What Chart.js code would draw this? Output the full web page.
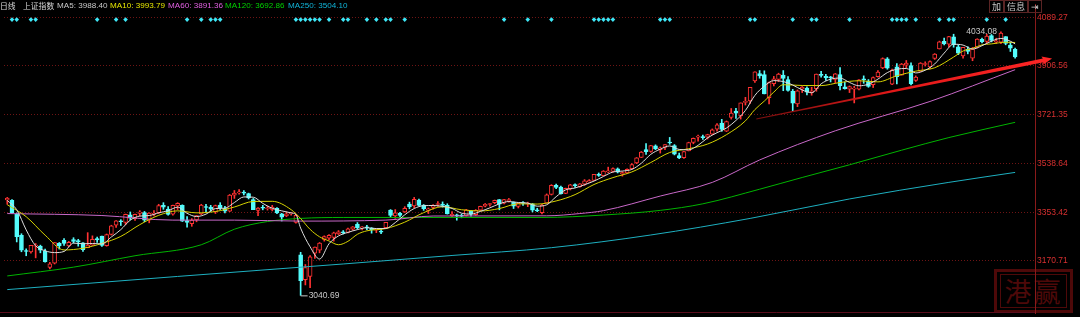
<!DOCTYPE html>
<html>
<head>
<meta charset="utf-8">
<script src="https://cdn.jsdelivr.net/npm/chart.js@4.4.1/dist/chart.umd.min.js"></script>
<style>
  html, body { margin: 0; padding: 0; background: #000; }
  #wrap { position: relative; width: 1080px; height: 317px; overflow: hidden; background: #000; }
  #kline { position: absolute; left: 0; top: 0; z-index: 1; }
  #legend, #btns { position: absolute; top: 0; z-index: 2; font: 8.1px "Liberation Sans", "Noto Sans CJK SC", sans-serif; white-space: nowrap; }
  #legend span { position: absolute; top: 1px; }
  #legend span.cn { font: 7.8px "Noto Sans CJK SC", sans-serif; top: 0; }
  #btns { left: 989px; top: 0; display: flex; }
  #btns span { display: block; height: 11px; line-height: 11px; border: 1px solid #5a2424; color: #c8c8c8; padding: 0 2px; font-size: 9px; font-family: "Noto Sans CJK SC", sans-serif; }
  #stamp { position: absolute; left: 994px; top: 269px; width: 73px; height: 38px; border: 3px solid #4e0909; z-index: 0; }
  #stamp div { position: absolute; left: 3px; top: 2px; right: 3px; bottom: 2px; border: 1px solid #4e0909; color: #4e0909; font: 27px "Noto Sans CJK SC", sans-serif; line-height: 32px; text-align: center; letter-spacing: 2px; }
</style>
</head>
<body>
<div id="wrap">
  <div id="stamp"><div>港赢</div></div>
  <canvas id="kline" width="1080" height="317"></canvas>
  <div id="legend"></div>
  <div id="btns"><span>加</span><span>信息</span><span>⇥</span></div>
</div>
<script>
// 上证指数 日线 2024-12-30 .. 2025-11-18
const dates = [
  '12-30','12-31',
  '01-02','01-03','01-06','01-07','01-08','01-09','01-10','01-13','01-14','01-15','01-16','01-17','01-20','01-21','01-22','01-23','01-24','01-27',
  '02-05','02-06','02-07','02-10','02-11','02-12','02-13','02-14','02-17','02-18','02-19','02-20','02-21','02-24','02-25','02-26','02-27','02-28',
  '03-03','03-04','03-05','03-06','03-07','03-10','03-11','03-12','03-13','03-14','03-17','03-18','03-19','03-20','03-21','03-24','03-25','03-26','03-27','03-28','03-31',
  '04-01','04-02','04-03','04-07','04-08','04-09','04-10','04-11','04-14','04-15','04-16','04-17','04-18','04-21','04-22','04-23','04-24','04-25','04-28','04-29','04-30',
  '05-06','05-07','05-08','05-09','05-12','05-13','05-14','05-15','05-16','05-19','05-20','05-21','05-22','05-23','05-26','05-27','05-28','05-29','05-30',
  '06-03','06-04','06-05','06-06','06-09','06-10','06-11','06-12','06-13','06-16','06-17','06-18','06-19','06-20','06-23','06-24','06-25','06-26','06-27','06-30',
  '07-01','07-02','07-03','07-04','07-07','07-08','07-09','07-10','07-11','07-14','07-15','07-16','07-17','07-18','07-21','07-22','07-23','07-24','07-25','07-28','07-29','07-30','07-31',
  '08-01','08-04','08-05','08-06','08-07','08-08','08-11','08-12','08-13','08-14','08-15','08-18','08-19','08-20','08-21','08-22','08-25','08-26','08-27','08-28','08-29',
  '09-01','09-02','09-03','09-04','09-05','09-08','09-09','09-10','09-11','09-12','09-15','09-16','09-17','09-18','09-19','09-22','09-23','09-24','09-25','09-26','09-29','09-30',
  '10-09','10-10','10-13','10-14','10-15','10-16','10-17','10-20','10-21','10-22','10-23','10-24','10-27','10-28','10-29','10-30','10-31',
  '11-03','11-04','11-05','11-06','11-07','11-10','11-11','11-12','11-13','11-14','11-17','11-18'
];

const opens = [
  3400,3399,
  3347,3267,3207,3204,3226,3226,3208,3146,3162,3237,3248,3227,3251,3247,3239,3220,3230,3255,
  3264,3228,3270,3305,3320,3316,3344,3330,3350,3353,3324,3346,3352,3380,3366,3347,3378,3380,
  3323,3311,3325,3348,3374,3373,3355,3381,3368,3358,3418,3427,3428,3424,3402,3361,3370,3367,3365,3369,3348,
  3340,3348,3316,3193,3100,3112,3200,3211,3252,3256,3259,3272,3278,3278,3290,3308,3295,3298,3294,3286,3283,
  3296,3362,3340,3350,3355,3385,3378,3400,3381,3361,3372,3383,3385,3380,3341,3341,3340,3341,3360,
  3345,3362,3377,3383,3390,3402,3388,3397,3391,3376,3389,3385,3386,3363,3352,3388,3421,3455,3449,3425,
  3442,3456,3450,3460,3468,3474,3497,3492,3506,3508,3518,3499,3502,3518,3540,3561,3590,3583,3604,3590,3598,3616,3605,
  3568,3560,3585,3617,3637,3637,3637,3648,3667,3690,3660,3711,3735,3717,3768,3774,3849,3877,3873,3786,3839,
  3855,3871,3854,3810,3762,3818,3822,3806,3820,3874,3866,3862,3855,3873,3827,3818,3818,3818,3854,3848,3835,3865,
  3898,3932,3837,3902,3871,3909,3907,3851,3885,3911,3902,3934,3970,3998,3987,4015,3977,
  3943,3968,3935,3975,4006,3998,4020,3995,3995,4016,3984,3968
];
const highs = [
  3410,3402,
  3351,3273,3216,3229,3236,3230,3215,3165,3240,3240,3255,3244,3258,3252,3240,3277,3265,3260,
  3264,3272,3305,3323,3326,3347,3355,3347,3360,3357,3352,3360,3384,3390,3375,3381,3390,3382,
  3338,3330,3342,3384,3384,3380,3381,3390,3376,3421,3436,3439,3436,3426,3406,3372,3380,3378,3380,3372,3350,
  3355,3353,3347,3203,3157,3191,3223,3240,3265,3270,3279,3285,3285,3294,3300,3315,3300,3305,3296,3291,3292,
  3316,3364,3364,3354,3375,3392,3410,3404,3383,3370,3383,3394,3393,3386,3356,3347,3347,3365,3361,
  3364,3377,3387,3388,3400,3402,3403,3406,3393,3389,3394,3392,3387,3369,3384,3423,3458,3460,3453,3445,
  3459,3461,3462,3477,3477,3497,3502,3511,3524,3521,3521,3507,3518,3537,3560,3583,3613,3606,3608,3600,3609,3636,3609,
  3577,3584,3618,3634,3645,3645,3648,3668,3688,3704,3698,3745,3746,3766,3787,3825,3883,3888,3887,3845,3866,
  3878,3888,3865,3817,3815,3828,3827,3825,3875,3885,3874,3866,3877,3899,3845,3830,3829,3854,3868,3854,3864,3888,
  3936,3937,3894,3914,3915,3926,3917,3868,3918,3921,3925,3952,3999,4010,4017,4025,3985,
  3976,3978,3975,4008,4010,4025,4024,4010,4034.08,4016,3995,3973
];
const lows = [
  3384,3350,
  3242,3205,3190,3200,3182,3201,3166,3140,3159,3215,3229,3224,3238,3226,3206,3220,3229,3240,
  3225,3226,3268,3297,3304,3307,3325,3323,3340,3318,3314,3340,3349,3365,3343,3343,3364,3319,
  3298,3301,3318,3345,3356,3357,3349,3364,3351,3356,3406,3422,3419,3404,3364,3341,3363,3362,3359,3349,3321,
  3337,3343,3313,3040.69,3080,3070,3180,3201,3245,3251,3245,3270,3272,3276,3286,3290,3287,3288,3275,3277,3273,
  3293,3335,3331,3335,3353,3367,3371,3378,3361,3349,3366,3376,3373,3347,3338,3324,3333,3340,3339,
  3342,3360,3374,3377,3386,3363,3385,3392,3368,3370,3380,3375,3355,3356,3348,3388,3419,3443,3422,3424,
  3438,3448,3448,3455,3466,3474,3489,3492,3503,3505,3502,3490,3500,3516,3537,3560,3572,3580,3590,3577,3590,3610,3570,
  3556,3557,3585,3612,3622,3628,3630,3646,3660,3659,3658,3705,3708,3705,3758,3764,3843,3859,3800,3762,3830,
  3846,3812,3810,3733,3752,3805,3796,3795,3810,3863,3851,3845,3841,3815,3818,3805,3766,3815,3840,3825,3824,3863,
  3895,3893,3835,3838,3871,3898,3834,3847,3885,3905,3896,3930,3969,3985,3976,3976,3948,
  3935,3951,3925,3973,3992,3990,3996,3990,3989,3985,3960,3935
];
const closes = [
  3407,3351,
  3262,3211,3206,3229,3230,3211,3168,3160,3240,3227,3236,3241,3244,3242,3213,3230,3252,3250,
  3229,3270,3303,3322,3318,3346,3332,3346,3355,3324,3351,3350,3379,3373,3346,3380,3388,3320,
  3316,3324,3341,3381,3372,3366,3379,3371,3358,3419,3426,3429,3426,3408,3364,3370,3369,3368,3373,3351,3335,
  3348,3350,3342,3096,3145,3186,3223,3238,3262,3267,3276,3280,3276,3291,3299,3296,3297,3295,3288,3286,3279,
  3316,3342,3352,3342,3369,3374,3403,3380,3367,3367,3380,3387,3380,3348,3346,3340,3339,3363,3347,
  3361,3376,3384,3385,3399,3384,3402,3402,3377,3388,3387,3388,3362,3359,3381,3420,3455,3448,3424,3444,
  3457,3454,3461,3472,3473,3497,3493,3509,3510,3519,3505,3503,3516,3534,3559,3581,3582,3605,3593,3597,3609,3615,3573,
  3559,3583,3617,3633,3639,3635,3647,3665,3683,3666,3696,3728,3727,3766,3771,3825,3883,3868,3800,3843,3857,
  3875,3858,3813,3765,3812,3826,3807,3812,3875,3870,3860,3861,3876,3831,3820,3828,3821,3853,3853,3828,3862,3882,
  3933,3897,3889,3865,3912,3916,3839,3863,3916,3913,3922,3950,3996,3988,4016,3986,3954,
  3976,3960,3969,4007,3997,4018,4002,4000,4029,3990,3972,3939
];

// moving averages (day index -> value)
const ma5Days = [0,2,4,6,8,10,12,14,16,18,20,22,24,26,28,30,32,34,36,38,40,42,44,46,48,50,52,54,56,58,60,61,62,64,66,68,70,72,74,76,78,80,82,84,86,88,90,92,94,96,98,100,102,104,106,108,110,112,114,116,118,120,122,124,126,128,130,132,134,136,138,140,142,144,146,148,150,152,154,156,158,160,162,164,166,168,170,172,174,176,178,180,182,184,186,188,190,192,194,196,198,200,202,204,206,208,210,212,213];
const ma5 = [3398.2,3363.6,3287.4,3227.6,3208.8,3201.8,3206.2,3237.6,3235.2,3236.2,3234.8,3260.8,3288.4,3324.2,3339.4,3341.6,3351.8,3359.8,3373.2,3350,3337.8,3346.8,3367.8,3369.2,3390.6,3411.6,3410.6,3387.4,3368.8,3359.2,3351.4,3345.2,3294.2,3223.8,3177.6,3235.2,3264.6,3278,3288.4,3295.6,3292.4,3292.8,3315,3344.2,3368,3378.6,3379.4,3376.2,3368.2,3350.6,3347,3357.2,3370.6,3385.6,3394.4,3390.6,3388.4,3376.8,3382,3412.6,3438.2,3445.4,3457.6,3471.4,3488.8,3505.6,3509.2,3515.4,3538.6,3572.2,3591.6,3603.8,3590.6,3589.4,3606.2,3634.2,3653.8,3671.4,3700,3737.6,3794.4,3829.4,3850.2,3846.6,3833.6,3814.8,3804.4,3838,3855.6,3859.6,3843.2,3830.6,3836.6,3855.6,3880.4,3893.2,3895.8,3879,3889.4,3912.8,3953.8,3987.2,3984,3969,3981.8,3998.6,4009.2,3998.6,3988.40];

const ma10Days = [0,4,8,12,16,20,24,28,32,36,40,44,48,52,56,60,62,64,66,68,70,72,74,76,80,84,88,92,96,100,104,108,112,116,120,124,128,132,136,140,144,148,152,156,158,160,162,164,168,172,176,180,184,188,192,196,200,202,204,206,208,211,213];
const ma10 = [3382.3,3337.2,3267.5,3211.8,3218.2,3236.4,3262.9,3307.1,3342.3,3359.2,3351.7,3356.7,3373.7,3394.6,3395.2,3363.6,3330.2,3289.4,3261.4,3245.7,3231.5,3244.4,3270.8,3283.9,3292.3,3316.6,3352.4,3374.9,3363.4,3358.7,3367.8,3385.8,3384.8,3396.5,3420.4,3458.5,3484.5,3505.9,3541.4,3579.1,3593.3,3611,3646.4,3698.4,3741,3773,3806.8,3834.6,3831.7,3831.3,3843,3849.5,3845.4,3868.3,3885.8,3898.5,3938.9,3961.7,3971.7,3984.9,3988.5,3994.8,3993.79];

const ma60Days = [0,20,35,48,62,80,90,114,121,126,138,149,159,175,195,213];
const ma60 = [3349,3341.6,3324.3,3324.3,3320.6,3324.3,3339.8,3340.5,3349,3360,3415,3466.5,3551,3661,3771.5,3891.36];

const ma120Days = [0,14,27,41,48,55,62,71,94,113,126,138,147,159,168,178,189,199,213];
const ma120 = [3113.9,3147,3190,3231.4,3290,3319,3330.7,3334.3,3334.3,3334.3,3343.5,3361,3385.7,3440.8,3485,3532.8,3587.8,3635.5,3692.86];

const ma250Days = [0,36,71,94,115,136,157,178,199,213];
const ma250 = [3062.4,3112,3159,3191,3220.4,3268.2,3330.7,3404.1,3466.6,3504.10];

// signal markers on the top row
const signalDays = [1,2,5,6,19,23,25,38,41,43,44,45,61,62,63,64,65,66,68,71,72,76,78,80,81,84,105,110,115,124,125,126,127,128,138,139,140,157,158,166,170,171,178,187,188,189,190,192,197,199,200,207,211];

const yTicks = [3170.71, 3353.42, 3538.64, 3721.35, 3906.56, 4089.27];
const highMark = { day: 210, value: 4034.08 };
const lowMark = { day: 62, value: 3040.69 };
const trendArrow = { from: [158.3, 3705], to: [220.8, 3933] };

const RED = '#ff3232';
const CYAN = '#54fcfc';
const isUp = closes.map((c, i) => c >= opens[i]);

const maDefs = [
  { name: 'MA5', days: ma5Days, vals: ma5, line: '#dcdcdc', text: '#c8c8c8', left: 57 },
  { name: 'MA10', days: ma10Days, vals: ma10, line: '#d6d200', text: '#e6e600', left: 110 },
  { name: 'MA60', days: ma60Days, vals: ma60, line: '#c868c8', text: '#e060e0', left: 168 },
  { name: 'MA120', days: ma120Days, vals: ma120, line: '#00b400', text: '#00d000', left: 225 },
  { name: 'MA250', days: ma250Days, vals: ma250, line: '#1eb0c0', text: '#10b4d8', left: 288 }
];

// legend text
const legend = document.getElementById('legend');
legend.innerHTML =
  '<span class="cn" style="left:0;color:#d8d8d8">日线</span>' +
  '<span class="cn" style="left:23px;color:#d8d8d8">上证指数</span>' +
  maDefs.map(m => `<span style="left:${m.left}px;color:${m.text}">${m.name}: ${m.vals[m.vals.length - 1].toFixed(2)}</span>`).join('');

const decor = {
  id: 'decor',
  afterDatasetsDraw(chart) {
    const { ctx, scales: { x, y }, chartArea } = chart;
    ctx.save();

    // separator at the bottom of the price pane
    ctx.strokeStyle = '#5a0c1c';
    ctx.lineWidth = 1;
    ctx.beginPath();
    ctx.moveTo(0, 312.5);
    ctx.lineTo(chartArea.right, 312.5);
    ctx.stroke();

    // red trend arrow
    const x0 = x.getPixelForValue(trendArrow.from[0]), y0 = y.getPixelForValue(trendArrow.from[1]);
    const x1 = x.getPixelForValue(trendArrow.to[0]), y1 = y.getPixelForValue(trendArrow.to[1]);
    const len = Math.hypot(x1 - x0, y1 - y0);
    ctx.save();
    ctx.translate(x0, y0);
    ctx.rotate(Math.atan2(y1 - y0, x1 - x0));
    const g = ctx.createLinearGradient(0, 0, len, 0);
    g.addColorStop(0, '#7a0e0e');
    g.addColorStop(0.45, '#e01818');
    g.addColorStop(1, '#ff2626');
    ctx.fillStyle = g;
    ctx.beginPath();
    ctx.moveTo(0, -0.5);
    ctx.lineTo(len - 9, -1.9);
    ctx.lineTo(len - 10, -4.2);
    ctx.lineTo(len, 0);
    ctx.lineTo(len - 10, 4.2);
    ctx.lineTo(len - 9, 1.9);
    ctx.lineTo(0, 0.5);
    ctx.closePath();
    ctx.fill();
    ctx.restore();

    // high / low value labels
    ctx.font = '8.5px "Liberation Sans", sans-serif';
    ctx.fillStyle = '#c8c8c8';
    ctx.strokeStyle = '#c8c8c8';
    ctx.textBaseline = 'middle';
    const hx = x.getPixelForValue(highMark.day), hy = y.getPixelForValue(highMark.value);
    ctx.textAlign = 'right';
    ctx.fillText(highMark.value.toFixed(2), hx - 4, hy);
    const lx = x.getPixelForValue(lowMark.day), ly = y.getPixelForValue(lowMark.value);
    ctx.beginPath();
    ctx.moveTo(lx, ly + 0.5);
    ctx.lineTo(lx + 7, ly + 0.5);
    ctx.stroke();
    ctx.textAlign = 'left';
    ctx.fillText(lowMark.value.toFixed(2), lx + 8, ly + 0.5);
    ctx.restore();
  }
};

new Chart(document.getElementById('kline'), {
  type: 'bar',
  data: {
    datasets: [
      {
        label: 'wick',
        data: dates.map((d, i) => ({ x: i, y: [lows[i], highs[i]] })),
        backgroundColor: isUp.map(u => u ? RED : CYAN),
        barThickness: 1,
        grouped: false,
        order: 4
      },
      {
        label: 'body',
        data: dates.map((d, i) => ({ x: i, y: [opens[i], closes[i]] })),
        backgroundColor: isUp.map(u => u ? '#000' : CYAN),
        borderColor: isUp.map(u => u ? RED : CYAN),
        borderWidth: 1,
        borderSkipped: false,
        barThickness: 4,
        minBarLength: 1,
        grouped: false,
        order: 3
      },
      ...maDefs.map(m => ({
        type: 'line',
        label: m.name,
        data: m.days.map((d, k) => ({ x: d, y: m.vals[k] })),
        borderColor: m.line,
        borderWidth: 1,
        pointRadius: 0,
        cubicInterpolationMode: 'monotone',
        order: 2
      })),
      {
        type: 'scatter',
        label: 'signal',
        data: signalDays.map(d => ({ x: d, y: 4080 })),
        pointStyle: 'rectRot',
        pointRadius: 2.3,
        backgroundColor: '#3ee6f6',
        borderWidth: 0,
        order: 1
      }
    ]
  },
  options: {
    responsive: false,
    animation: false,
    events: [],
    layout: { padding: 0 },
    plugins: { legend: { display: false }, tooltip: { enabled: false } },
    scales: {
      x: { type: 'linear', display: false, offset: false, bounds: 'data', min: -0.69, max: 217.2 },
      y: {
        type: 'linear',
        position: 'right',
        bounds: 'data',
        min: 2974.2,
        max: 4138.87,
        afterBuildTicks: s => { s.ticks = yTicks.map(v => ({ value: v })); },
        afterFit: s => { s.width = 45; s.paddingTop = 0; s.paddingBottom = 0; },
        ticks: {
          color: '#d83030',
          padding: 2,
          font: { size: 8.5, family: 'Liberation Sans' },
          callback: v => v.toFixed(2)
        },
        grid: { color: '#6e1414', drawTicks: false, lineWidth: 1 },
        border: { color: '#8a1a1a', width: 1, dash: [1, 2] }
      }
    }
  },
  plugins: [decor]
});
</script>
</body>
</html>
